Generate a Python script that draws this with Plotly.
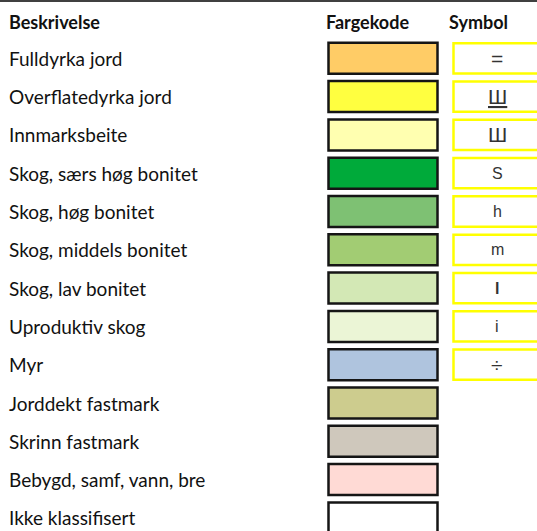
import plotly.graph_objects as go

headers = ["Beskrivelse", "Fargekode", "Symbol"]
labels = ["Fulldyrka jord", "Overflatedyrka jord", "Innmarksbeite",
          "Skog, særs høg bonitet", "Skog, høg bonitet", "Skog, middels bonitet",
          "Skog, lav bonitet", "Uproduktiv skog", "Myr", "Jorddekt fastmark",
          "Skrinn fastmark", "Bebygd, samf, vann, bre", "Ikke klassifisert"]
colors = ["#FFCC66", "#FFFF40", "#FFFFB0", "#00AA3A", "#7EC173", "#A2CC73",
          "#D3E8B5", "#EBF5D6", "#AFC4DE", "#CDCC8E", "#CFC8BC", "#FFDAD5", "#FFFFFF"]
symbols = ["=", "<u>Ш</u>", "Ш", "S", "h", "m", "<b>l</b>", "i", "÷"]

W, H = 537, 531
row0, step = 58.3, 38.3
font = "Lato"

fig = go.Figure()
fig.add_trace(go.Scatter(x=[0], y=[0], mode="markers", marker=dict(opacity=0),
                         hoverinfo="skip", showlegend=False))

shapes = []
annotations = []
shapes.append(dict(type="line", xref="x", yref="y", x0=0, x1=W, y0=-1.495, y1=-1.495,
                   line=dict(color="#404040", width=2)))
hdr_y = -0.94
hfont = dict(family=font, size=18, color="#111")
annotations.append(dict(x=7, y=hdr_y, text="<b>" + headers[0] + "</b>", xanchor="left",
                        showarrow=False, font=hfont))
annotations.append(dict(x=367, y=hdr_y, text="<b>" + headers[1] + "</b>", xanchor="center",
                        showarrow=False, font=hfont))
annotations.append(dict(x=478, y=hdr_y, text="<b>" + headers[2] + "</b>", xanchor="center",
                        showarrow=False, font=hfont))

for i, (lab, col) in enumerate(zip(labels, colors)):
    annotations.append(dict(x=7, y=i, text=lab, xanchor="left", showarrow=False,
                            font=dict(family=font, size=19, color="#111")))
    shapes.append(dict(type="rect", xref="x", yref="y", x0=328.5, x1=437.5,
                       y0=i - 0.405, y1=i + 0.405, fillcolor=col,
                       line=dict(color="#151515", width=2.5)))

for i, sym in enumerate(symbols):
    shapes.append(dict(type="rect", xref="x", yref="y", x0=453.5, x1=541,
                       y0=i - 0.395, y1=i + 0.395, fillcolor="#FFFFFF",
                       line=dict(color="#FFFF00", width=2.5)))
    is_letter = sym.replace("<b>", "").replace("</b>", "") in ("S", "h", "m", "l", "i")
    annotations.append(dict(x=497, y=i, text=sym, xanchor="center", showarrow=False,
                            font=dict(family="Liberation Sans",
                                      size=16 if is_letter else 21, color="#333")))

fig.update_layout(
    width=W, height=H, margin=dict(l=0, r=0, t=0, b=0),
    paper_bgcolor="white", plot_bgcolor="white",
    xaxis=dict(range=[0, W], visible=False, fixedrange=True),
    yaxis=dict(range=[(H - row0) / step, -row0 / step], visible=False, fixedrange=True),
    shapes=shapes, annotations=annotations, showlegend=False,
)
fig.write_html("out.html", config={"displayModeBar": False},
               post_script="document.body.style.margin='0';document.body.style.overflow='hidden';")
